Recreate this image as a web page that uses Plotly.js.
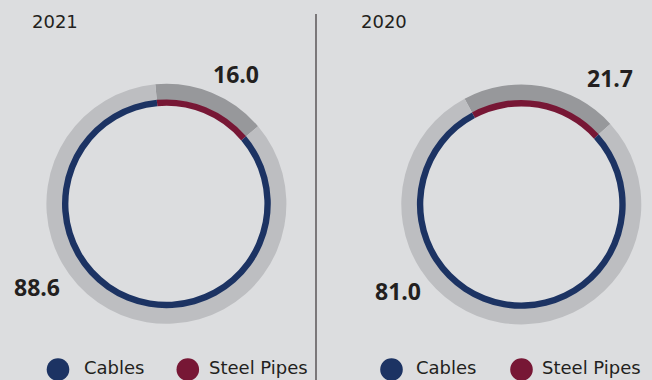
<!DOCTYPE html>
<html>
<head>
<meta charset="utf-8">
<script src="https://cdn.plot.ly/plotly-3.0.1.min.js"></script>
<style>html,body{margin:0;padding:0;background:#dcdddf;}#chart{width:652px;height:380px;}</style>
</head>
<body>
<div id="chart"></div>
<script>
// ---- data ----
const years = ['2021', '2020'];
const categories = ['Cables', 'Steel Pipes'];
const cables = [88.6, 81.0];
const steelPipes = [16.0, 21.7];

// ---- styling / layout ----
const W = 652, H = 380;
const BG = '#dcdddf';
const NAVY = '#1c3363';
const MAROON = '#771735';
const RING_LIGHT = '#bdbec1';
const RING_DARK = '#97989b';
const TXT = '#231f20';
const FONT_NUM = '"Open Sans", Lato, sans-serif';
const FONT_TXT = '"DejaVu Sans", sans-serif';

const centers = [[166.4, 203.8], [521.3, 204.4]];
const rOuter = 120, rMid = 104.4, rInner = 98;
const rotations = [-5.3, -28.2];
const valueLabelPos = [
  {steel: [235.7, 74], cables: [37.2, 287]},
  {steel: [610, 78], cables: [397.8, 291.3]}
];
const yearPos = [[30, 21.5], [358.5, 21.5]];
const legendPos = [[58, 187.8], [391.5, 521.5]];
const legendTextX = [[81.5, 206.5], [414, 539.5]];
const legendY = 369.5;

const px = x => x / W;
const py = y => 1 - y / H;
function dom(cx, cy, r) {
  return {x: [px(cx - r), px(cx + r)], y: [py(cy + r), py(cy - r)]};
}

const traces = [];
const annotations = [];
const shapes = [];

years.forEach((yr, i) => {
  const [cx, cy] = centers[i];
  const vals = [steelPipes[i], cables[i]];
  const labels = ['Steel Pipes', 'Cables'];
  // outer gray ring
  traces.push({
    type: 'pie', values: vals, labels: labels, sort: false, direction: 'clockwise',
    rotation: rotations[i], hole: rMid / rOuter - 0.006,
    domain: dom(cx, cy, rOuter), textinfo: 'none', hoverinfo: 'none', showlegend: false,
    marker: {colors: [RING_DARK, RING_LIGHT], line: {width: 0}}
  });
  // inner coloured ring
  traces.push({
    type: 'pie', values: vals, labels: labels, sort: false, direction: 'clockwise',
    rotation: rotations[i], hole: rInner / rMid,
    domain: dom(cx, cy, rMid), textinfo: 'none', hoverinfo: 'none', showlegend: false,
    marker: {colors: [MAROON, NAVY], line: {width: 0}}
  });
  // value labels
  annotations.push({
    xref: 'paper', yref: 'paper', x: px(valueLabelPos[i].steel[0]), y: py(valueLabelPos[i].steel[1]),
    xanchor: 'center', yanchor: 'middle', showarrow: false, text: steelPipes[i].toFixed(1),
    font: {family: FONT_NUM, size: 23, color: TXT, weight: 700}
  });
  annotations.push({
    xref: 'paper', yref: 'paper', x: px(valueLabelPos[i].cables[0]), y: py(valueLabelPos[i].cables[1]),
    xanchor: 'center', yanchor: 'middle', showarrow: false, text: cables[i].toFixed(1),
    font: {family: FONT_TXT === '' ? FONT_NUM : FONT_NUM, size: 23, color: TXT, weight: 700}
  });
  // year label
  annotations.push({
    xref: 'paper', yref: 'paper', x: px(yearPos[i][0]), y: py(yearPos[i][1]),
    xanchor: 'left', yanchor: 'middle', showarrow: false, text: yr,
    font: {family: FONT_TXT, size: 18, color: TXT, weight: 400}
  });
  // legend
  const lcolors = [NAVY, MAROON];
  categories.forEach((c, k) => {
    const lx = legendPos[i][k];
    const rr = 11.3;
    shapes.push({
      type: 'circle', xref: 'paper', yref: 'paper',
      x0: px(lx - rr), x1: px(lx + rr), y0: py(legendY + rr), y1: py(legendY - rr),
      fillcolor: lcolors[k], line: {width: 0}
    });
    annotations.push({
      xref: 'paper', yref: 'paper', x: px(legendTextX[i][k]), y: py(367),
      xanchor: 'left', yanchor: 'middle', showarrow: false, text: c,
      font: {family: FONT_TXT, size: 18, color: TXT, weight: 400}
    });
  });
});

// divider
shapes.push({
  type: 'line', xref: 'paper', yref: 'paper', x0: px(316), x1: px(316), y0: 0, y1: py(14),
  line: {color: '#3a3536', width: 1.2}
});

Plotly.newPlot('chart', traces, {
  width: W, height: H,
  margin: {l: 0, r: 0, t: 0, b: 0},
  paper_bgcolor: BG, plot_bgcolor: BG,
  showlegend: false,
  annotations: annotations, shapes: shapes
}, {displayModeBar: false, staticPlot: true});
</script>
</body>
</html>
